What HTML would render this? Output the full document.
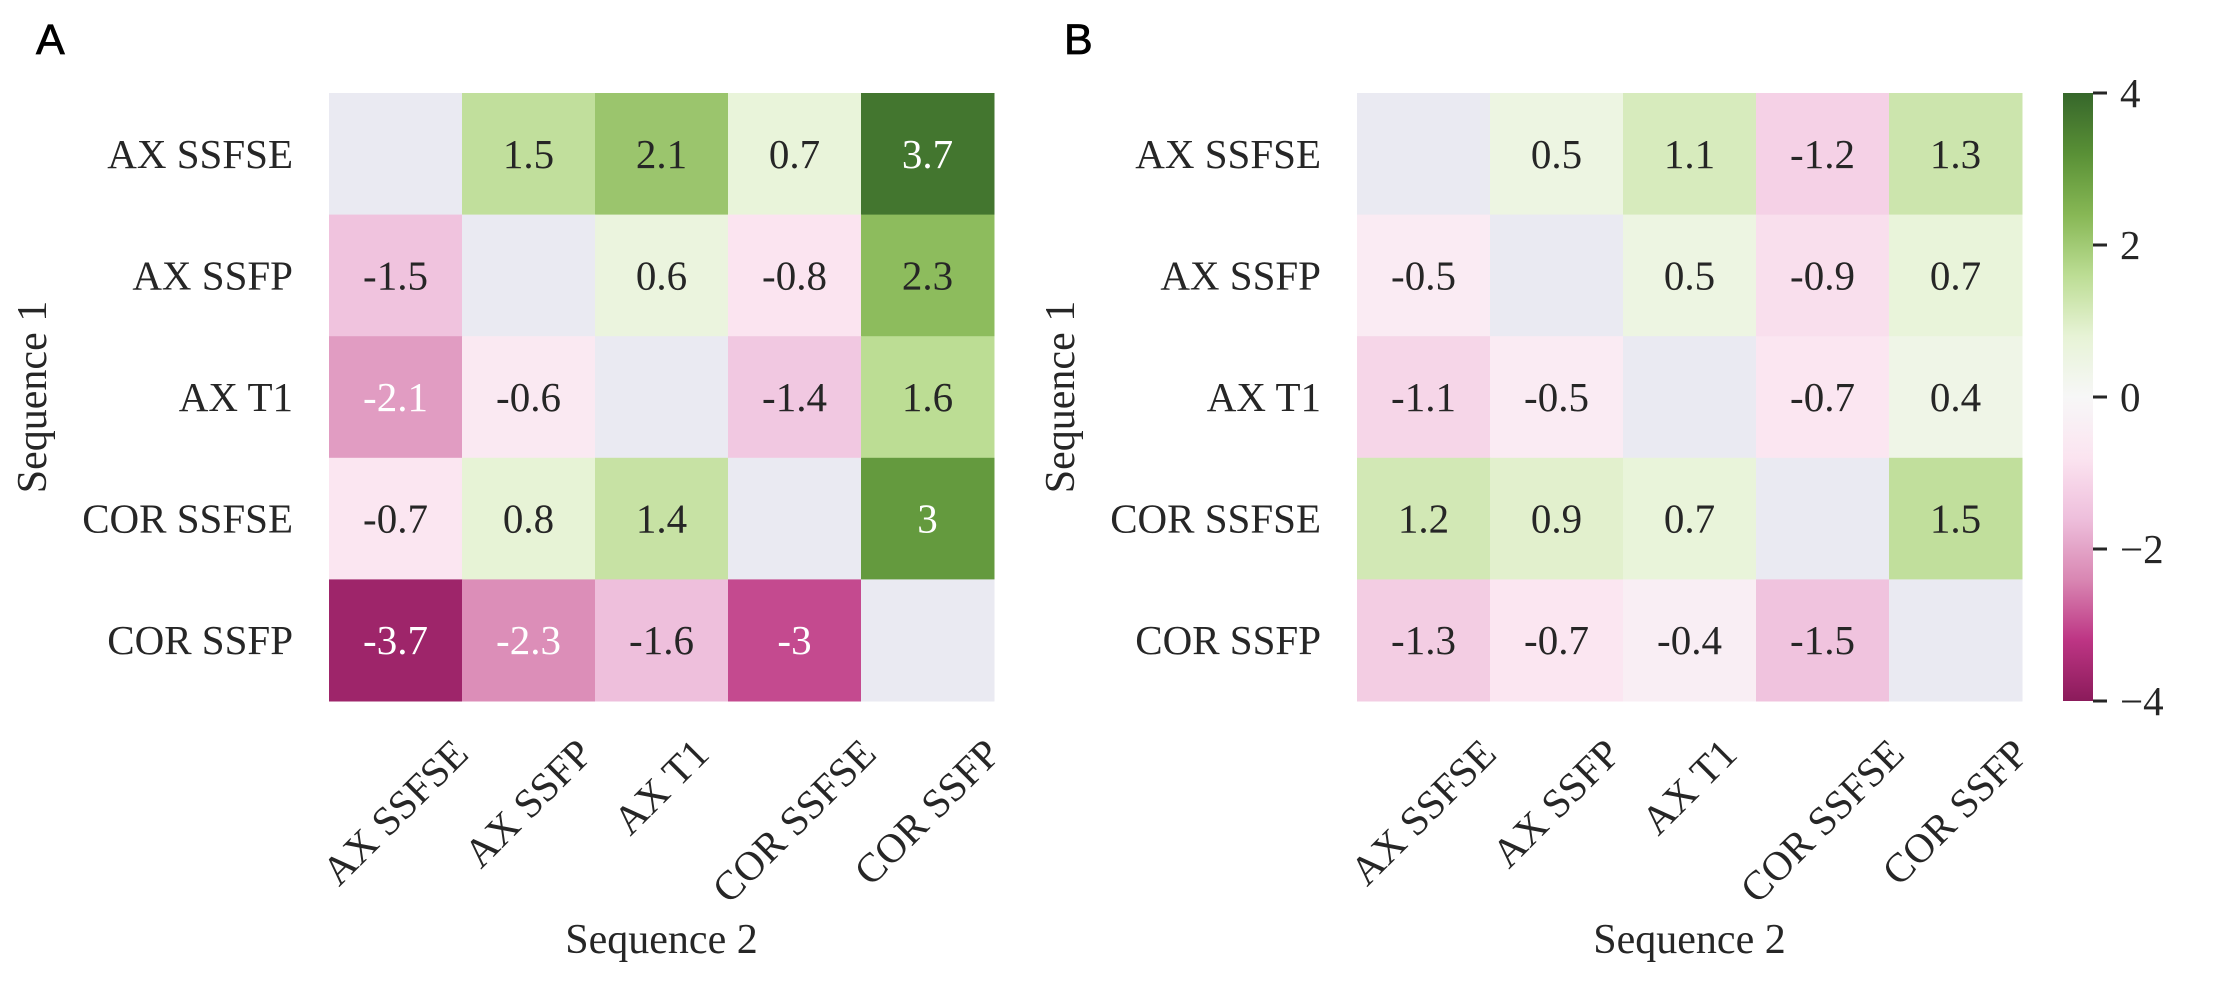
<!DOCTYPE html>
<html><head><meta charset="utf-8"><style>
html,body{margin:0;padding:0;background:#fff;}
svg{display:block;}
text{font-family:"Liberation Serif",serif;fill:#262626;}
</style></head><body>
<svg id="fig" width="2228" height="996" viewBox="0 0 2228 996">
<text x="36" y="54" style="font-family:'Liberation Sans',sans-serif;font-size:43px;fill:#000;stroke:#000;stroke-width:0.8">A</text>
<text x="1064" y="54" style="font-family:'Liberation Sans',sans-serif;font-size:43px;fill:#000;stroke:#000;stroke-width:0.8">B</text>
<defs><linearGradient id="cbgrad" x1="0" y1="1" x2="0" y2="0"></linearGradient></defs>
<g id="pa"></g>
<g id="pb"></g>
<g id="cb"></g>
</svg>
<script>
const labels = ["AX SSFSE","AX SSFP","AX T1","COR SSFSE","COR SSFP"];
const valuesA = [
 [null,1.5,2.1,0.7,3.7],
 [-1.5,null,0.6,-0.8,2.3],
 [-2.1,-0.6,null,-1.4,1.6],
 [-0.7,0.8,1.4,null,3],
 [-3.7,-2.3,-1.6,-3,null]];
const valuesB = [
 [null,0.5,1.1,-1.2,1.3],
 [-0.5,null,0.5,-0.9,0.7],
 [-1.1,-0.5,null,-0.7,0.4],
 [1.2,0.9,0.7,null,1.5],
 [-1.3,-0.7,-0.4,-1.5,null]];
const cbTicks = [4,2,0,-2,-4];
const cbTickLabels = ["4","2","0","\u22122","\u22124"];
const vmin=-4, vmax=4;
const piyg=["#8e0152","#c51b7d","#de77ae","#f1b6da","#fde0ef","#f7f7f7","#e6f5d0","#b8e186","#7fbc41","#4d9221","#276419"];
function hex(h){return [1,3,5].map(i=>parseInt(h.substr(i,2),16));}
function rawmap(v){
  let t=(v-vmin)/(vmax-vmin); t=Math.max(0,Math.min(1,t));
  const p=t*10, i=Math.min(9,Math.floor(p)), f=p-i;
  const a=hex(piyg[i]), b=hex(piyg[i+1]);
  return a.map((x,k)=>x+(b[k]-x)*f);
}
function cmap(v){
  const c=rawmap(v), m=(c[0]+c[1]+c[2])/3;
  return c.map(x=>{let y=m+0.85*(x-m);y=y+0.06*(255-y);return Math.round(Math.max(0,Math.min(255,y)));});
}
function lum(c){const l=c.map(x=>{x/=255;return x<=0.03928?x/12.92:Math.pow((x+0.055)/1.055,2.4);});return 0.2126*l[0]+0.7152*l[1]+0.0722*l[2];}
const NS="http://www.w3.org/2000/svg";
function mk(tag,attrs,parent){const e=document.createElementNS(NS,tag);for(const k in attrs)e.setAttribute(k,attrs[k]);parent.appendChild(e);return e;}
const top0=93, cellH=121.6, cellW=133, fs=41;
function panel(g, x0, vals, pid){
  const xs=j=>x0+j*cellW, ys=i=>top0+i*cellH;
  vals.forEach((row,i)=>row.forEach((v,j)=>{
    const fill = v===null ? "#eaeaf2" : "rgb("+cmap(v).join(",")+")";
    const r=mk("rect",{x:xs(j),y:ys(i),width:cellW+0.5,height:cellH+0.5,fill:fill},g);
    
    
    if(v!==null){
      const col = lum(rawmap(v).map(Math.round))>0.408 ? "#262626" : "#ffffff";
      const t=mk("text",{x:xs(j)+cellW/2,y:ys(i)+cellH/2+14,"text-anchor":"middle","font-size":fs},g);
      t.style.fill=col;
      t.textContent=String(v);
      
      
    }
  }));
  labels.forEach((lab,i)=>{
    const t=mk("text",{x:x0-36,y:ys(i)+cellH/2+14,"text-anchor":"end","font-size":fs},g);
    t.textContent=lab;
    
    
  });
  labels.forEach((lab,j)=>{
    const t=mk("text",{"text-anchor":"middle","font-size":fs},g);
    t.textContent=lab;
    const L=t.getComputedTextLength();
    const half=(L+28)*0.7071/2;
    const cx=xs(j)+cellW/2, cy=737+half;
    t.setAttribute("x",cx); t.setAttribute("y",cy+13);
    t.setAttribute("transform","rotate(-45 "+cx+" "+cy+")");
    
    
  });
  const xl=mk("text",{x:x0+cellW*2.5,y:953,"text-anchor":"middle","font-size":42},g);
  xl.textContent="Sequence 2";
  
  
  const yx=x0-283, yy=top0+cellH*2.5;
  const yl=mk("text",{x:yx,y:yy,"text-anchor":"middle","font-size":42,transform:"rotate(-90 "+yx+" "+yy+")"},g);
  yl.textContent="Sequence 1";
  
  
}
panel(document.getElementById("pa"),329,valuesA,"panel-a");
panel(document.getElementById("pb"),1357,valuesB,"panel-b");
const grad=document.getElementById("cbgrad");
for(let k=0;k<=20;k++){const v=vmin+(vmax-vmin)*k/20;mk("stop",{offset:(k/20),"stop-color":"rgb("+cmap(v).join(",")+")"},grad);}
const cb=document.getElementById("cb");
const cbX=2063,cbW=30,cbTop=top0,cbBot=top0+cellH*5;
const cy=v=>cbBot-(v-vmin)/(vmax-vmin)*(cbBot-cbTop);
const bar=mk("rect",{x:cbX,y:cbTop,width:cbW,height:cbBot-cbTop,fill:"url(#cbgrad)"},cb);


cbTicks.forEach((v,k)=>{
  const ln=mk("line",{x1:cbX+cbW,x2:cbX+cbW+14,y1:cy(v),y2:cy(v),stroke:"#262626","stroke-width":3},cb);
  
  
  const t=mk("text",{x:cbX+cbW+27,y:cy(v)+14,"font-size":fs},cb);
  t.textContent=cbTickLabels[k];
  
  
});
</script>
</body></html>
